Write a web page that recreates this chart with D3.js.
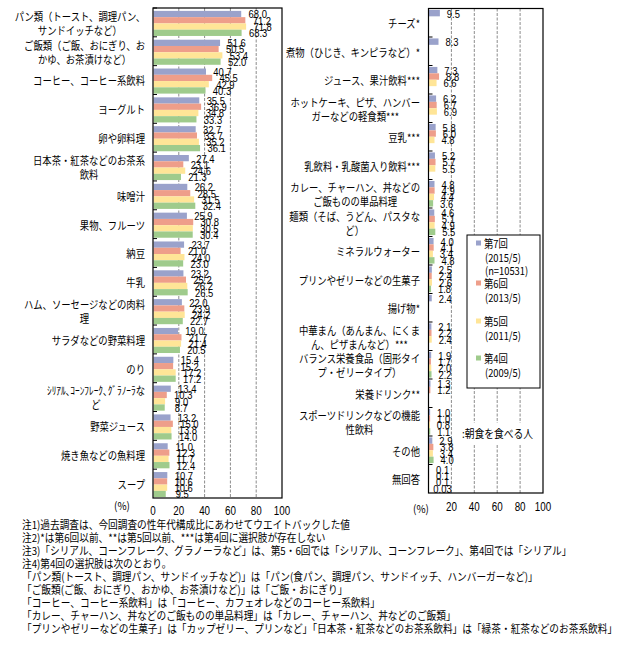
<!DOCTYPE html>
<html><head><meta charset="utf-8">
<script src="https://cdn.jsdelivr.net/npm/d3@7"></script>
<style>
html,body{margin:0;padding:0;background:#fff;}
svg{display:block;}
</style></head>
<body>
<svg id="c" width="617" height="646"></svg>
<script>
// ---------------- data ----------------
const seriesNames = ["第7回", "第6回", "第5回", "第4回"];
const seriesColors = ["#9aa2cb", "#ee9e8a", "#ffe597", "#9fcb8c"];
const legendLines = [["第7回", "(2015/5)", "(n=10531)"], ["第6回", "(2013/5)"], ["第5回", "(2011/5)"], ["第4回", "(2009/5)"]];

const leftCategories = [
  "パン類（トースト、調理パン、\nサンドイッチなど）",
  "ご飯類（ご飯、おにぎり、お\nかゆ、お茶漬けなど）",
  "コーヒー、コーヒー系飲料",
  "ヨーグルト",
  "卵や卵料理",
  "日本茶・紅茶などのお茶系\n飲料",
  "味噌汁",
  "果物、フルーツ",
  "納豆",
  "牛乳",
  "ハム、ソーセージなどの肉料\n理",
  "サラダなどの野菜料理",
  "のり",
  "ｼﾘｱﾙ､ｺｰﾝﾌﾚｰｸ､ｸﾞﾗﾉｰﾗな\nど",
  "野菜ジュース",
  "焼き魚などの魚料理",
  "スープ"
];
const left7 = [68.0, 51.6, 40.7, 35.5, 32.7, 27.4, 26.2, 25.9, 23.7, 23.2, 22.0, 19.0, 15.4, 13.4, 13.2, 11.0, 10.7];
const left6 = [71.2, 50.5, 45.5, 36.9, 33.7, 23.1, 28.5, 30.8, 21.0, 25.2, 23.9, 21.7, 15.2, 10.3, 15.0, 12.3, 10.6];
const left5 = [71.8, 53.4, 42.9, 34.8, 35.2, 24.6, 31.5, 30.5, 24.0, 26.2, 24.2, 21.4, 17.2, 9.0, 13.8, 11.7, 10.6];
const left4 = [68.3, 52.0, 40.3, 33.3, 36.1, 21.3, 32.4, 30.4, 23.0, 26.5, 22.7, 20.5, 17.2, 8.7, 14.0, 12.4, 9.5];

const rightCategories = [
  "チーズ*",
  "煮物（ひじき、キンピラなど）*",
  "ジュース、果汁飲料***",
  "ホットケーキ、ピザ、ハンバー\nガーなどの軽食類***",
  "豆乳***",
  "乳飲料・乳酸菌入り飲料***",
  "カレー、チャーハン、丼などの\nご飯ものの単品料理",
  "麺類（そば、うどん、パスタな\nど）",
  "ミネラルウォーター",
  "プリンやゼリーなどの生菓子",
  "揚げ物*",
  "中華まん（あんまん、にくま\nん、ピザまんなど）***",
  "バランス栄養食品（固形タイ\nプ・ゼリータイプ）",
  "栄養ドリンク**",
  "スポーツドリンクなどの機能\n性飲料",
  "その他",
  "無回答"
];
const right7 = [9.5, 8.3, 7.3, 6.2, 5.8, 5.2, 4.8, 4.6, 4.0, 2.5, 2.4, 2.1, 1.9, 1.3, 1.0, 2.9, 0.1];
const right6 = [null, null, 8.8, 6.7, 6.0, 5.7, 4.9, 5.1, 4.1, 2.4, null, 2.2, 1.7, 1.2, 1.0, 3.8, 0.1];
const right5 = [null, null, 6.6, 6.9, 4.8, 5.5, 4.4, 4.9, 3.4, 2.6, null, 2.4, 2.0, null, 0.8, 3.4, 0.1];
const right4 = [null, null, null, null, null, null, 3.6, 5.5, 4.8, 1.8, null, null, 2.2, null, 1.1, 4.0, 0.03];

const leftTicks = [0, 20, 40, 60, 80, 100];
const rightTicks = [20, 40, 60, 80, 100];
const gridTicks = [20, 40, 60, 80];
const unitLabel = "(%)";
const sideNote = ":朝食を食べる人";
const notes = [
  "注1)過去調査は、今回調査の性年代構成比にあわせてウエイトバックした値",
  "注2)*は第6回以前、**は第5回以前、***は第4回に選択肢が存在しない",
  "注3)「シリアル、コーンフレーク、グラノーラなど」は、第5・6回では「シリアル、コーンフレーク」、第4回では「シリアル」",
  "注4)第4回の選択肢は次のとおり。",
  " 「パン類(トースト、調理パン、サンドイッチなど)」は「パン(食パン、調理パン、サンドイッチ、ハンバーガーなど)」",
  " 「ご飯類(ご飯、おにぎり、おかゆ、お茶漬けなど)」は「ご飯・おにぎり」",
  " 「コーヒー、コーヒー系飲料」は「コーヒー、カフェオレなどのコーヒー系飲料」",
  " 「カレー、チャーハン、丼などのご飯ものの単品料理」は「カレー、チャーハン、丼などのご飯類」",
  " 「プリンやゼリーなどの生菓子」は「カップゼリー、プリンなど」「日本茶・紅茶などのお茶系飲料」は「緑茶・紅茶などのお茶系飲料」"
];

// ---------------- drawing ----------------
const svg = d3.select("#c");
const JP = '"Noto Sans CJK JP", "Noto Sans", sans-serif';
const NUM = '"Liberation Sans Narrow", "Liberation Sans", Arial, sans-serif';
const SX = 0.85;

function txt(g, x, y, s, opts = {}) {
  const t = g.append("text")
    .attr("transform", `translate(${x},${y}) scale(${opts.sx ?? SX},1)`)
    .attr("font-family", opts.font || JP)
    .attr("font-size", opts.size || 11)
    .attr("fill", "#000")
    .attr("text-anchor", opts.anchor || "start")
    .attr("dominant-baseline", "central")
    .text(s);
  return t;
}
const fmt = v => (Math.round(v * 10) === v * 10 ? v.toFixed(1) : String(v));

function panel(cfg) {
  const g = svg.append("g");
  const x = d3.scaleLinear().domain([0, 100]).range([cfg.x0, cfg.x1]);
  const y = d3.scaleBand().domain(d3.range(cfg.cats.length)).range([cfg.y0, cfg.y1]).padding(0);
  const bw = y.bandwidth();
  const ys = d3.scaleBand().domain(d3.range(4)).range([bw * cfg.gs, bw * cfg.ge]).padding(0);

  // gridlines
  g.selectAll("line.grid").data(gridTicks).join("line")
    .attr("x1", d => x(d)).attr("x2", d => x(d))
    .attr("y1", cfg.y0).attr("y2", cfg.y1)
    .attr("stroke", "#8c8c8c").attr("stroke-width", 1)
    .attr("stroke-dasharray", "3,1.5");

  // bars
  const rows = [];
  cfg.vals.forEach((arr, si) => arr.forEach((v, ci) => { if (v != null) rows.push({ v, si, ci }); }));
  g.selectAll("rect.bar").data(rows).join("rect")
    .attr("x", x(0) + 0.5)
    .attr("y", d => y(d.ci) + ys(d.si))
    .attr("width", d => Math.max(0, x(d.v) - x(0)))
    .attr("height", ys.bandwidth())
    .attr("fill", d => seriesColors[d.si]);

  // frame
  g.append("rect").attr("x", cfg.x0).attr("y", cfg.y0)
    .attr("width", cfg.x1 - cfg.x0).attr("height", cfg.y1 - cfg.y0)
    .attr("fill", "none").attr("stroke", "#000").attr("stroke-width", 1.2);

  // category ticks (inside)
  g.selectAll("line.ct").data(d3.range(cfg.cats.length)).join("line")
    .attr("x1", cfg.x0).attr("x2", cfg.x0 + 4)
    .attr("y1", d => y(d)).attr("y2", d => y(d))
    .attr("stroke", "#000");

  // value labels
  rows.forEach(d => {
    txt(g, x(d.v) + cfg.lo, y(d.ci) + ys(d.si) + ys.bandwidth() / 2, fmt(d.v),
      { font: NUM, size: 11.5, anchor: "middle", sx: 0.82 });
  });

  // category labels
  cfg.cats.forEach((c, i) => {
    const lines = c.split("\n");
    const cy = y(i) + bw / 2 + cfg.ly;
    if (lines.length === 1) {
      txt(g, cfg.lx, cy, lines[0], { anchor: "end" });
    } else {
      const tmp = lines.map((l, k) => txt(g, 0, 0, l, { anchor: "middle" }));
      const mw = d3.max(tmp, t => t.node().getComputedTextLength()) * SX;
      const lh = 14;
      tmp.forEach((t, k) => {
        t.attr("transform", `translate(${cfg.lx - mw / 2},${cy + (k - (lines.length - 1) / 2) * lh}) scale(${SX},1)`);
      });
    }
  });

  // axis tick labels
  cfg.ticks.forEach(tv => {
    txt(g, x(tv), cfg.ty, String(tv), { font: NUM, size: 12, anchor: "middle", sx: 0.82 });
  });
  txt(g, cfg.ux, cfg.uy, unitLabel, { anchor: "middle", sx: 0.9 });
  return g;
}

panel({ cats: leftCategories, vals: [left7, left6, left5, left4], x0: 153, x1: 282, y0: 8, y1: 498,
  gs: 0.1, ge: 0.97, lo: 17, lx: 145, ly: 0.5, ticks: leftTicks, ty: 511, ux: 122, uy: 505 });
panel({ cats: rightCategories, vals: [right7, right6, right5, right4], x0: 428.5, x1: 543, y0: 8.5, y1: 493,
  gs: 0.05, ge: 0.95, lo: 14, lx: 420, ly: 0.5, ticks: rightTicks, ty: 507, ux: 421, uy: 508 });

// legend
const lg = svg.append("g");
lg.append("rect").attr("x", 467).attr("y", 235).attr("width", 73).attr("height", 153)
  .attr("fill", "#fff").attr("stroke", "#000").attr("stroke-width", 1);
const legendY = [243, 283, 321, 358];
legendLines.forEach((ls, i) => {
  lg.append("rect").attr("x", 476).attr("y", legendY[i] - 2.5).attr("width", 5).attr("height", 5)
    .attr("fill", seriesColors[i]);
  ls.forEach((s, k) => {
    txt(lg, k === 0 ? 484 : 485, legendY[i] + k * 13.8, s, { size: 11, sx: 0.85 });
  });
});

// side note
svg.append("rect").attr("x", 460).attr("y", 423).attr("width", 81).attr("height", 21).attr("fill", "#fff");
txt(svg, 462, 433.5, sideNote, { size: 11.5 });

// notes
notes.forEach((s, i) => {
  txt(svg, 22, 524 + i * 13, s, { size: 11, sx: 0.88 });
});
</script>
</body></html>
